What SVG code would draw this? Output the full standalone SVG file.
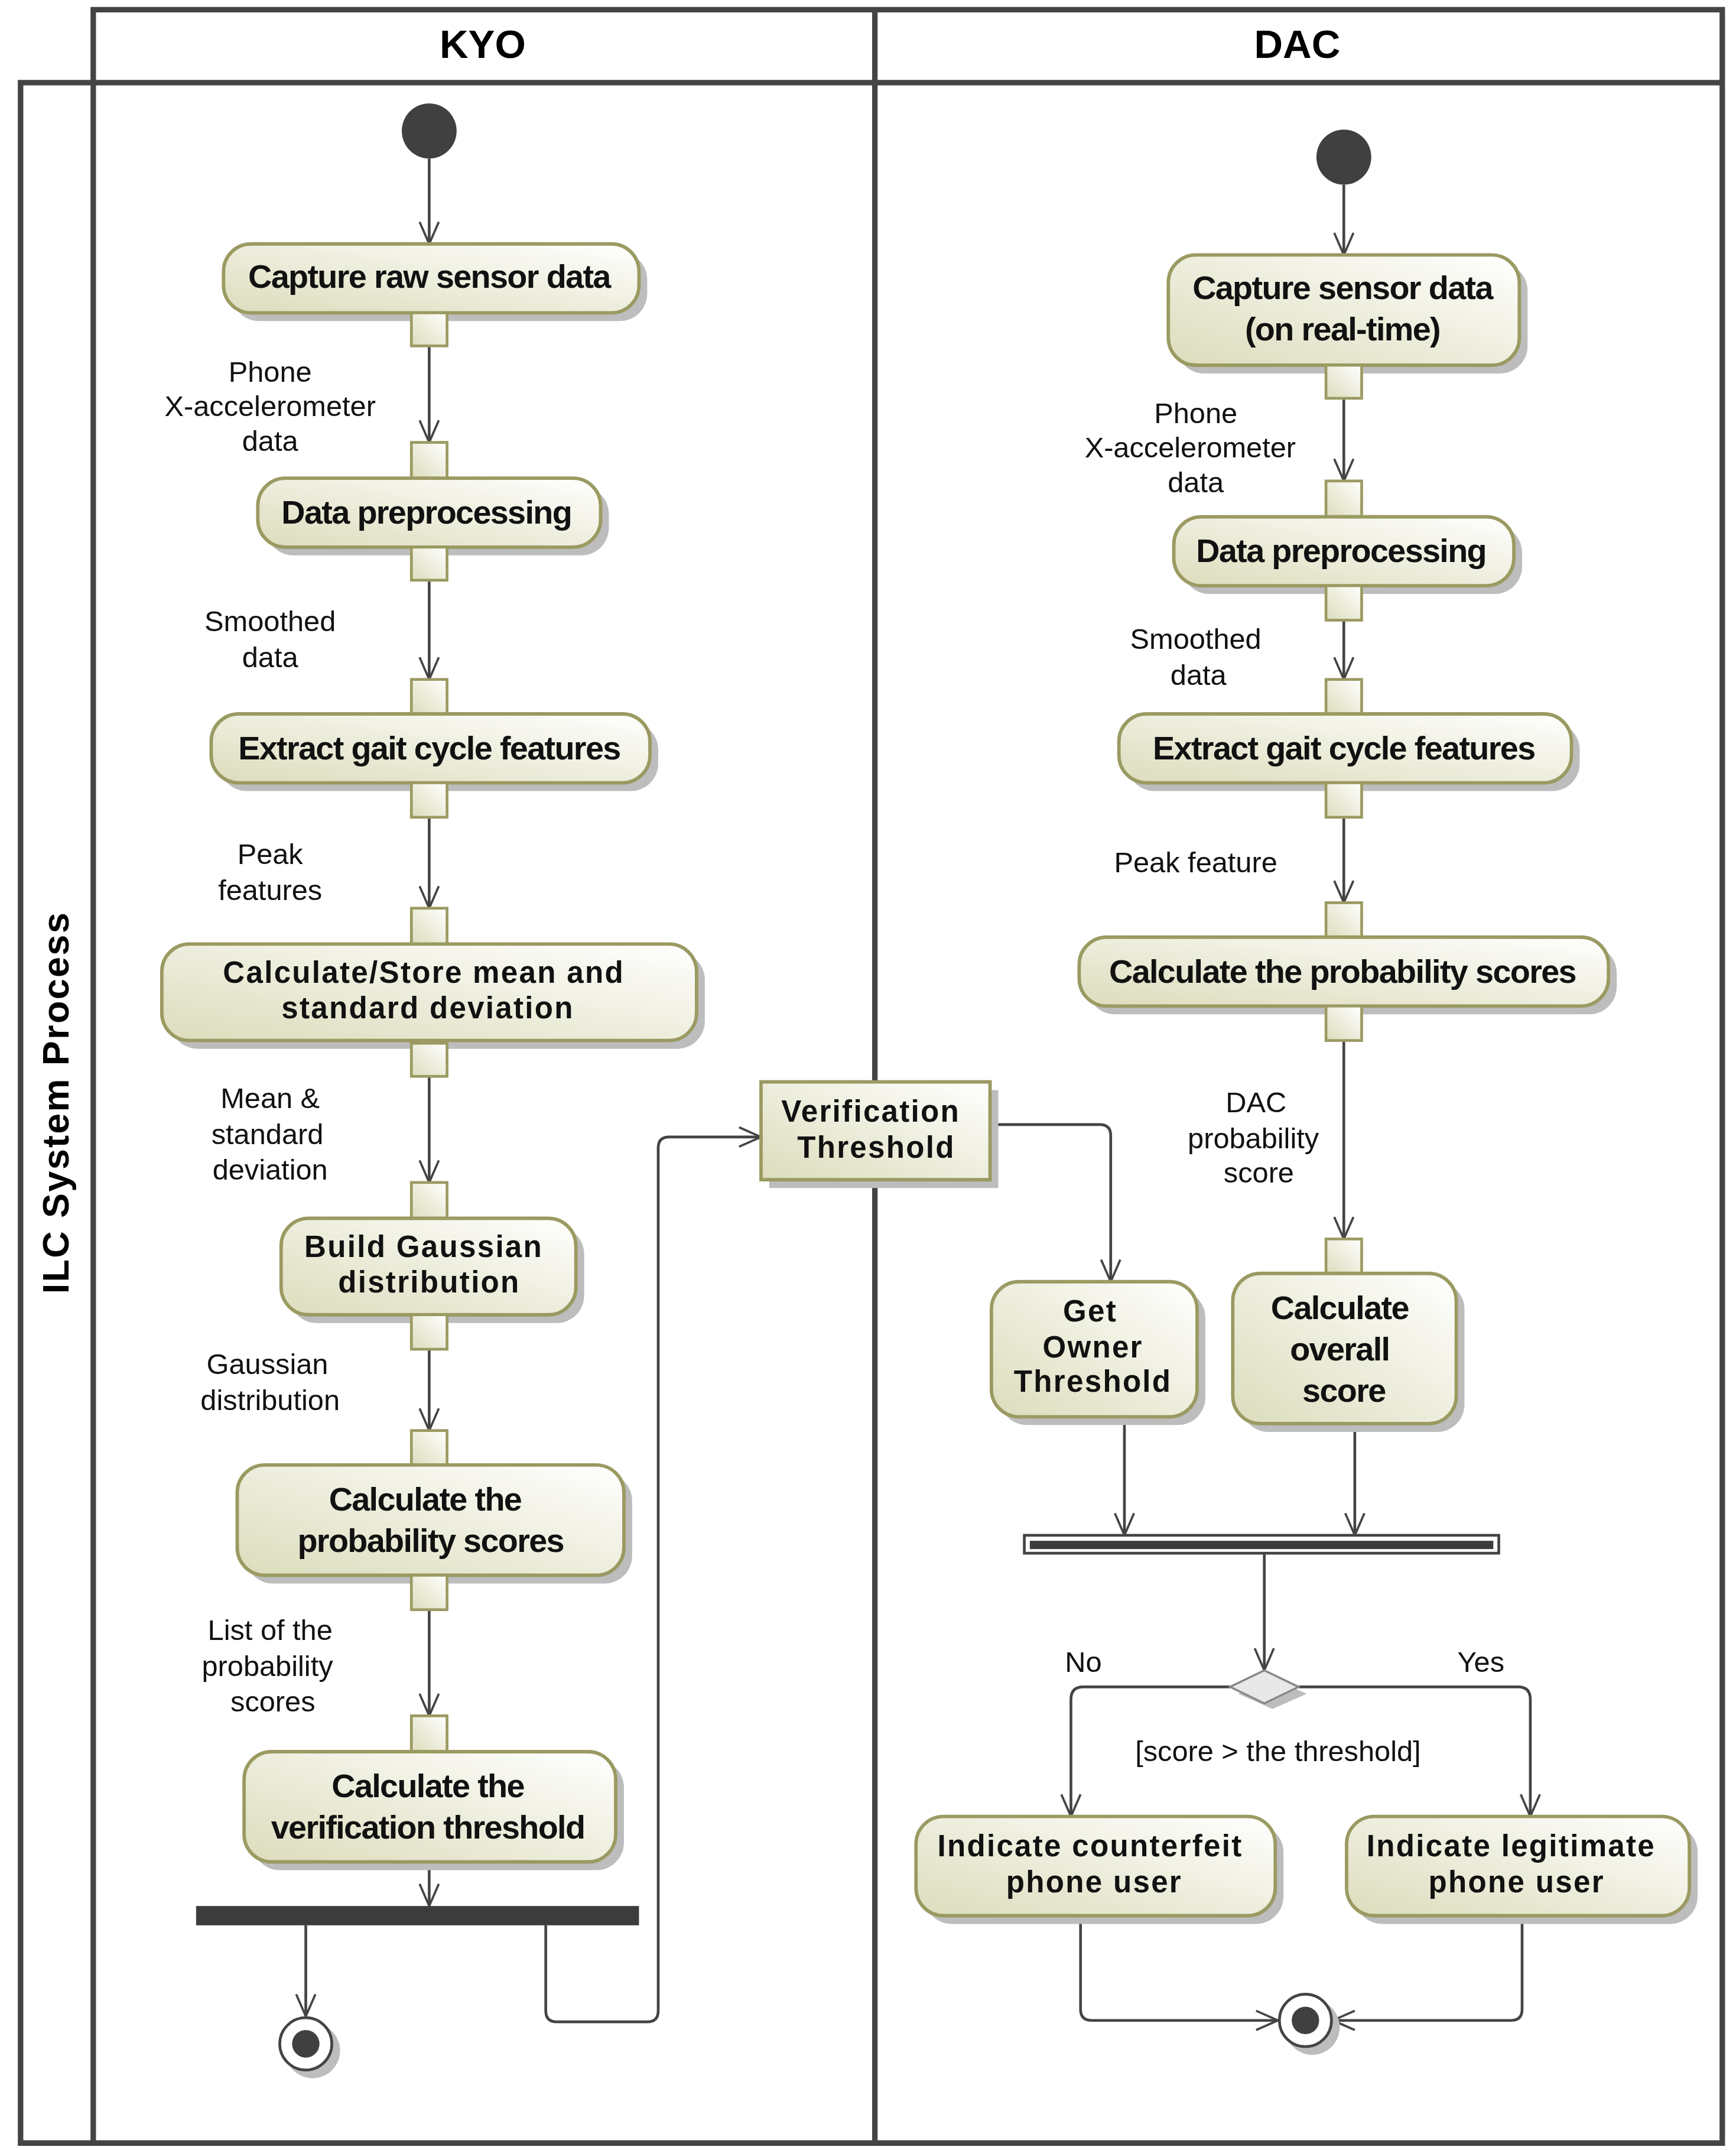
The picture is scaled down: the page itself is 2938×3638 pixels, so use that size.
<svg xmlns="http://www.w3.org/2000/svg" width="2938" height="3638" viewBox="0 0 2938 3638">
<defs>
<linearGradient id="g" x1="0" y1="1" x2="1" y2="0"><stop offset="0" stop-color="#dcdcbc"/><stop offset="1" stop-color="#ffffff"/></linearGradient>
<marker id="a" viewBox="0 0 20 20" refX="10" refY="18" markerWidth="20" markerHeight="20" markerUnits="userSpaceOnUse" orient="0"><path d="M3,2 L10,18 L17,2" fill="none" stroke="#444" stroke-width="1.6"/></marker>
<marker id="ah" viewBox="0 0 20 20" refX="18" refY="10" markerWidth="20" markerHeight="20" markerUnits="userSpaceOnUse" orient="0"><path d="M2,3 L18,10 L2,17" fill="none" stroke="#444" stroke-width="1.6"/></marker>
<marker id="al" viewBox="0 0 20 20" refX="2" refY="10" markerWidth="20" markerHeight="20" markerUnits="userSpaceOnUse" orient="0"><path d="M18,3 L2,10 L18,17" fill="none" stroke="#444" stroke-width="1.6"/></marker>
<style>
.act{fill:url(#g);stroke:#9a9a62;stroke-width:2.5}
.sh{fill:#bdbdbd}
.pin{fill:url(#g);stroke:#9a9a62;stroke-width:2}
.t{font-family:"Liberation Sans Narrow","Liberation Sans",Arial,sans-serif;font-weight:bold;font-size:24px;letter-spacing:-0.7px;text-anchor:middle;fill:#111}
.w{font-family:"Liberation Sans",Arial,sans-serif;font-weight:bold;font-size:22px;letter-spacing:1px;text-anchor:middle;fill:#111}
.l{font-family:"Liberation Sans",Arial,sans-serif;font-size:21px;text-anchor:middle;fill:#111}
.e{fill:none;stroke:#444;stroke-width:2}
.fr{fill:none;stroke:#444;stroke-width:4}
</style>
</defs>
<g transform="scale(2.3207,2.332)">
<rect width="1266" height="1560" fill="#fff"/>
<g id="frame">
<path class="fr" d="M68,60 V7 H1256 V1555 H15 V60 H1256 M68,60 V1555 M638,7 V1555"/>
<text x="352" y="42" font-family="Liberation Sans,Arial,sans-serif" font-weight="bold" font-size="29" text-anchor="middle">KYO</text>
<text x="946" y="42" font-family="Liberation Sans,Arial,sans-serif" font-weight="bold" font-size="29" text-anchor="middle">DAC</text>
<text transform="translate(50,800) rotate(-90)" font-family="Liberation Sans,Arial,sans-serif" font-weight="bold" font-size="27" letter-spacing="1" text-anchor="middle">ILC System Process</text>
</g>
<g id="connectors">
<path class="e" d="M313,115 V177" marker-end="url(#a)"/>
<path class="e" d="M313,251 V321" marker-end="url(#a)"/>
<path class="e" d="M313,421 V493" marker-end="url(#a)"/>
<path class="e" d="M313,593 V659" marker-end="url(#a)"/>
<path class="e" d="M313,781 V858" marker-end="url(#a)"/>
<path class="e" d="M313,979 V1038" marker-end="url(#a)"/>
<path class="e" d="M313,1168 V1245" marker-end="url(#a)"/>
<path class="e" d="M313,1351 V1383" marker-end="url(#a)"/>
<path class="e" d="M223,1397 V1463" marker-end="url(#a)"/>
<path class="e" d="M398,1397 V1459 Q398,1467 406,1467 H472 Q480,1467 480,1459 V833 Q480,825 488,825 H555" marker-end="url(#ah)"/>
<path class="e" d="M722,816 H802 Q810,816 810,824 V930" marker-end="url(#a)"/>
<path class="e" d="M980,134 V185" marker-end="url(#a)"/>
<path class="e" d="M980,289 V349" marker-end="url(#a)"/>
<path class="e" d="M980,450 V493" marker-end="url(#a)"/>
<path class="e" d="M980,593 V655" marker-end="url(#a)"/>
<path class="e" d="M980,755 V899" marker-end="url(#a)"/>
<path class="e" d="M820,1028 V1114" marker-end="url(#a)"/>
<path class="e" d="M988,1033 V1114" marker-end="url(#a)"/>
<path class="e" d="M922,1127 V1212" marker-end="url(#a)"/>
<path class="e" d="M897,1224 H790 Q781,1224 781,1233 V1318" marker-end="url(#a)"/>
<path class="e" d="M947,1224 H1107 Q1116,1224 1116,1233 V1318" marker-end="url(#a)"/>
<path class="e" d="M788,1390 V1458 Q788,1466 796,1466 H932" marker-end="url(#ah)"/>
<path class="e" d="M1110,1390 V1458 Q1110,1466 1102,1466 H972" marker-end="url(#al)"/>
<text class="l" x="197" y="277">Phone</text><text class="l" x="197" y="302">X-accelerometer</text><text class="l" x="197" y="327">data</text>
<text class="l" x="197" y="458">Smoothed</text><text class="l" x="197" y="484">data</text>
<text class="l" x="197" y="627">Peak</text><text class="l" x="197" y="653">features</text>
<text class="l" x="197" y="804">Mean &amp;</text><text class="l" x="195" y="830">standard</text><text class="l" x="197" y="856">deviation</text>
<text class="l" x="195" y="997">Gaussian</text><text class="l" x="197" y="1023">distribution</text>
<text class="l" x="197" y="1190">List of the</text><text class="l" x="195" y="1216">probability</text><text class="l" x="199" y="1242">scores</text>
<text class="l" x="872" y="307">Phone</text><text class="l" x="868" y="332">X-accelerometer</text><text class="l" x="872" y="357">data</text>
<text class="l" x="872" y="471">Smoothed</text><text class="l" x="874" y="497">data</text>
<text class="l" x="872" y="633">Peak feature</text>
<text class="l" x="916" y="807">DAC</text><text class="l" x="914" y="833">probability</text><text class="l" x="918" y="858">score</text>
<text class="l" x="790" y="1213">No</text><text class="l" x="1080" y="1213">Yes</text>
<text class="l" x="932" y="1278">[score &gt; the threshold]</text>
</g>
<g id="start1"><circle cx="313" cy="95" r="20" fill="#404040"/></g>
<g id="start2"><circle cx="980" cy="114" r="20" fill="#404040"/></g>
<g id="end1"><circle cx="228" cy="1488" r="20" class="sh"/><circle cx="223" cy="1483" r="19" fill="#fff" stroke="#444" stroke-width="2"/><circle cx="223" cy="1483" r="10" fill="#404040"/></g>
<g id="end2"><circle cx="957" cy="1471" r="20" class="sh"/><circle cx="952" cy="1466" r="19" fill="#fff" stroke="#444" stroke-width="2"/><circle cx="952" cy="1466" r="10" fill="#404040"/></g>
<g id="fork1"><rect x="143" y="1383" width="323" height="14" fill="#3c3c3c"/></g>
<g id="join"><rect x="747" y="1114" width="346" height="13" fill="#fff" stroke="#444" stroke-width="2"/><rect x="751" y="1118" width="338" height="6" fill="#3c3c3c"/></g>
<g id="decision"><path d="M903,1229 L928,1240 L953,1229 L928,1218Z" class="sh"/><path d="M897,1224 L922,1212 L947,1224 L922,1236Z" fill="#e8e8e8" stroke="#888" stroke-width="1.5"/></g>

<g id="n1"><rect x="169" y="183" width="303" height="50" rx="20" class="sh"/><rect x="163" y="177" width="303" height="50" rx="20" class="act"/><rect x="300" y="227" width="26" height="24" class="pin"/><text class="t" x="313" y="209">Capture raw sensor data</text></g>
<g id="n2"><rect x="300" y="321" width="26" height="26" class="pin"/><rect x="194" y="353" width="250" height="50" rx="20" class="sh"/><rect x="188" y="347" width="250" height="50" rx="20" class="act"/><rect x="300" y="397" width="26" height="24" class="pin"/><text class="t" x="311" y="380">Data preprocessing</text></g>
<g id="n3"><rect x="300" y="493" width="26" height="25" class="pin"/><rect x="160" y="524" width="320" height="50" rx="20" class="sh"/><rect x="154" y="518" width="320" height="50" rx="20" class="act"/><rect x="300" y="568" width="26" height="25" class="pin"/><text class="t" x="313" y="551">Extract gait cycle features</text></g>
<g id="n4"><rect x="300" y="659" width="26" height="26" class="pin"/><rect x="124" y="691" width="390" height="70" rx="20" class="sh"/><rect x="118" y="685" width="390" height="70" rx="20" class="act"/><rect x="300" y="757" width="26" height="24" class="pin"/><text class="w" x="309" y="713">Calculate/Store mean and</text><text class="w" x="312" y="739">standard deviation</text></g>
<g id="n5"><rect x="300" y="858" width="26" height="26" class="pin"/><rect x="211" y="890" width="215" height="70" rx="20" class="sh"/><rect x="205" y="884" width="215" height="70" rx="20" class="act"/><rect x="300" y="954" width="26" height="25" class="pin"/><text class="w" x="309" y="912">Build Gaussian</text><text class="w" x="313" y="938">distribution</text></g>
<g id="n6"><rect x="300" y="1038" width="26" height="25" class="pin"/><rect x="179" y="1069" width="282" height="80" rx="20" class="sh"/><rect x="173" y="1063" width="282" height="80" rx="20" class="act"/><rect x="300" y="1143" width="26" height="25" class="pin"/><text class="t" x="310" y="1096">Calculate the</text><text class="t" x="314" y="1126">probability scores</text></g>
<g id="n7"><rect x="300" y="1245" width="26" height="26" class="pin"/><rect x="184" y="1277" width="271" height="80" rx="20" class="sh"/><rect x="178" y="1271" width="271" height="80" rx="20" class="act"/><text class="t" x="312" y="1304">Calculate the</text><text class="t" x="312" y="1334">verification threshold</text></g>
<g id="vt"><rect x="561" y="791" width="167" height="71" class="sh"/><rect x="555" y="785" width="167" height="71" class="act"/><text class="w" x="635" y="814">Verification</text><text class="w" x="639" y="840">Threshold</text></g>
<g id="m1"><rect x="858" y="191" width="256" height="80" rx="20" class="sh"/><rect x="852" y="185" width="256" height="80" rx="20" class="act"/><rect x="967" y="265" width="26" height="24" class="pin"/><text class="t" x="979" y="217">Capture sensor data</text><text class="t" x="979" y="247">(on real-time)</text></g>
<g id="m2"><rect x="967" y="349" width="26" height="26" class="pin"/><rect x="862" y="381" width="248" height="50" rx="20" class="sh"/><rect x="856" y="375" width="248" height="50" rx="20" class="act"/><rect x="967" y="425" width="26" height="25" class="pin"/><text class="t" x="978" y="408">Data preprocessing</text></g>
<g id="m3"><rect x="967" y="493" width="26" height="25" class="pin"/><rect x="822" y="524" width="330" height="50" rx="20" class="sh"/><rect x="816" y="518" width="330" height="50" rx="20" class="act"/><rect x="967" y="568" width="26" height="25" class="pin"/><text class="t" x="980" y="551">Extract gait cycle features</text></g>
<g id="m4"><rect x="967" y="655" width="26" height="25" class="pin"/><rect x="793" y="686" width="386" height="50" rx="20" class="sh"/><rect x="787" y="680" width="386" height="50" rx="20" class="act"/><rect x="967" y="730" width="26" height="25" class="pin"/><text class="t" x="979" y="713">Calculate the probability scores</text></g>
<g id="m5"><rect x="967" y="899" width="26" height="25" class="pin"/><rect x="905" y="930" width="163" height="109" rx="20" class="sh"/><rect x="899" y="924" width="163" height="109" rx="20" class="act"/><text class="t" x="977" y="957">Calculate</text><text class="t" x="977" y="987">overall</text><text class="t" x="980" y="1017">score</text></g>
<g id="m6"><rect x="729" y="936" width="150" height="98" rx="20" class="sh"/><rect x="723" y="930" width="150" height="98" rx="20" class="act"/><text class="w" x="795" y="959">Get</text><text class="w" x="797" y="985">Owner</text><text class="w" x="797" y="1010">Threshold</text></g>
<g id="m7"><rect x="674" y="1324" width="262" height="72" rx="20" class="sh"/><rect x="668" y="1318" width="262" height="72" rx="20" class="act"/><text class="w" x="795" y="1347">Indicate counterfeit</text><text class="w" x="798" y="1373">phone user</text></g>
<g id="m8"><rect x="988" y="1324" width="250" height="72" rx="20" class="sh"/><rect x="982" y="1318" width="250" height="72" rx="20" class="act"/><text class="w" x="1102" y="1347">Indicate legitimate</text><text class="w" x="1106" y="1373">phone user</text></g>
</g>
</svg>
